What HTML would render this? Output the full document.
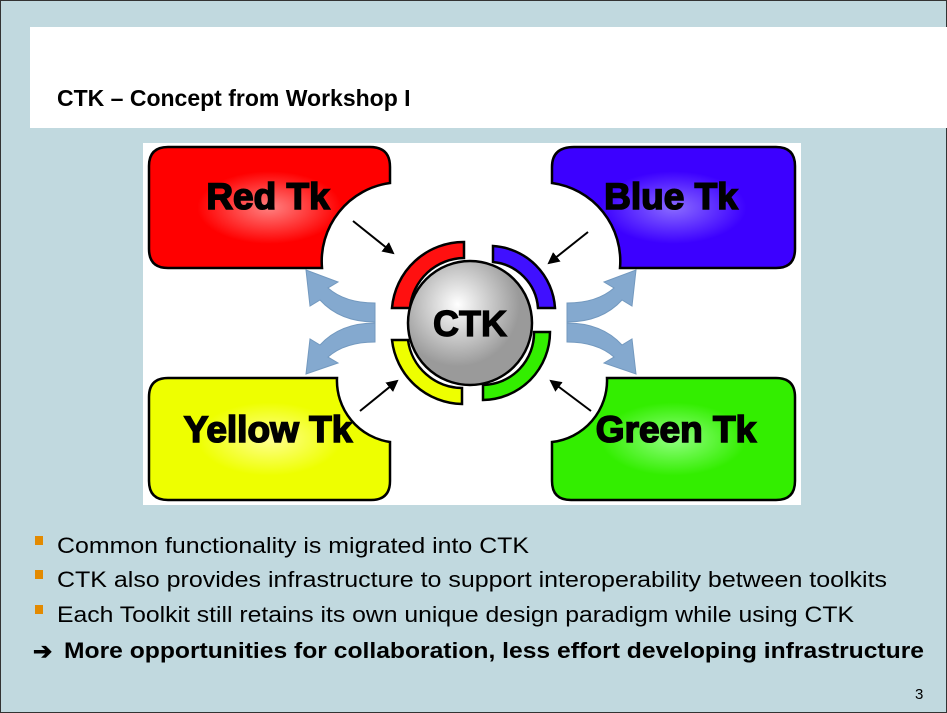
<!DOCTYPE html>
<html><head><style>html,body{margin:0;padding:0;background:#c1d9df}svg{display:block}</style></head><body>
<svg width="947" height="713" viewBox="0 0 947 713" xmlns="http://www.w3.org/2000/svg" font-family="Liberation Sans, sans-serif">
<defs>
<radialGradient id="gr"><stop offset="0" stop-color="#ff8080"/><stop offset="0.6" stop-color="#ff0000"/></radialGradient>
<radialGradient id="gb"><stop offset="0" stop-color="#8a6bff"/><stop offset="0.6" stop-color="#3c00ff"/></radialGradient>
<radialGradient id="gy"><stop offset="0" stop-color="#ffff90"/><stop offset="0.6" stop-color="#eeff00"/></radialGradient>
<radialGradient id="gg"><stop offset="0" stop-color="#90ff80"/><stop offset="0.6" stop-color="#33ee00"/></radialGradient>
<radialGradient id="gs" cx="0.4" cy="0.35"><stop offset="0" stop-color="#ffffff"/><stop offset="1" stop-color="#9a9a9a"/></radialGradient>
<marker id="ah" markerWidth="12" markerHeight="12" refX="10" refY="6" orient="auto" markerUnits="userSpaceOnUse"><path d="M0,0 L12,6 L0,12 z" fill="#000"/></marker>
</defs>
<rect width="947" height="713" fill="#c1d9df"/>
<rect x="0.5" y="0.5" width="946" height="712" fill="none" stroke="#333" stroke-width="1"/>
<rect x="30" y="27" width="917" height="101" fill="#fff"/>
<text x="57" y="106" font-size="23" font-weight="bold" fill="#000">CTK – Concept from Workshop I</text>
<rect x="143" y="143" width="658" height="362" fill="#fff"/>
<g stroke="#000" stroke-width="2.5">
<path d="M168,147 H370 Q390,147 390,167 V183 A79,79 0 0 0 322,268 H168 Q149,268 149,249 V166 Q149,147 168,147 Z" fill="url(#gr)"/>
<path d="M776,147 H574 Q552,147 552,167 V183 A79,79 0 0 1 620,268 H776 Q795,268 795,249 V166 Q795,147 776,147 Z" fill="url(#gb)"/>
<path d="M168,378 H337 A62,62 0 0 0 390,442 V481 Q390,500 371,500 H168 Q149,500 149,481 V397 Q149,378 168,378 Z" fill="url(#gy)"/>
<path d="M776,378 H607 A62,62 0 0 1 552,442 V481 Q552,500 571,500 H776 Q795,500 795,481 V397 Q795,378 776,378 Z" fill="url(#gg)"/>
</g>
<g font-weight="bold" font-size="37" text-anchor="middle" fill="#000" stroke="#000" stroke-width="1.6">
<text x="268" y="209">Red Tk</text><text x="671" y="209">Blue Tk</text>
<text x="268" y="442">Yellow Tk</text><text x="676" y="442">Green Tk</text>
</g>
<g stroke="#000" stroke-width="2.5">
<path d="M464,242 A72,72 0 0 0 392,308 H410 A55,55 0 0 1 464,258 Z" fill="#ff1010"/>
<path d="M493,246 A66,66 0 0 1 555,308 H538 A50,50 0 0 0 493,262 Z" fill="#4010ff"/>
<path d="M392,340 A72,72 0 0 0 462,404 V388 A55,55 0 0 1 408,340 Z" fill="#eeff00"/>
<path d="M550,332 A68,68 0 0 1 483,400 V385 A52,52 0 0 0 534,332 Z" fill="#33ee00"/>
</g>
<circle cx="470" cy="323" r="62" fill="url(#gs)" stroke="#000" stroke-width="2.5"/>
<text x="470" y="336" text-anchor="middle" font-size="36" font-weight="bold" stroke="#000" stroke-width="1.2">CTK</text>
<g stroke="#000" stroke-width="2" marker-end="url(#ah)">
<line x1="353" y1="221" x2="393" y2="253"/>
<line x1="588" y1="232" x2="549" y2="263"/>
<line x1="360" y1="411" x2="397" y2="381"/>
<line x1="591" y1="411" x2="551" y2="381"/>
</g>
<g fill="#84a9cf" stroke="#7399bf" stroke-width="1">
<path d="M375,322 Q340,322 320,300 L310,306 L306,270 L338,282 L328,288 Q345,303 375,303 Z"/>
<path d="M375,323 Q340,323 320,345 L310,339 L306,374 L338,363 L328,357 Q345,342 375,342 Z"/>
<path d="M567,322 Q602,322 622,300 L632,306 L636,270 L604,282 L614,288 Q597,303 567,303 Z"/>
<path d="M567,323 Q602,323 622,345 L632,339 L636,374 L604,363 L614,357 Q597,342 567,342 Z"/>
</g>
<g fill="#e38a00"><rect x="35" y="536" width="8" height="9"/><rect x="35" y="570" width="8" height="9"/><rect x="35" y="605" width="8" height="9"/></g>
<g font-size="22" fill="#000">
<text x="57" y="553" textLength="472" lengthAdjust="spacingAndGlyphs">Common functionality is migrated into CTK</text>
<text x="57" y="587" textLength="830" lengthAdjust="spacingAndGlyphs">CTK also provides infrastructure to support interoperability between toolkits</text>
<text x="57" y="622" textLength="797" lengthAdjust="spacingAndGlyphs">Each Toolkit still retains its own unique design paradigm while using CTK</text>
<text x="33" y="659" font-weight="bold" font-size="23">➔</text>
<text x="64" y="658" font-weight="bold" textLength="860" lengthAdjust="spacingAndGlyphs">More opportunities for collaboration, less effort developing infrastructure</text>
</g>
<text x="915" y="699" font-size="15">3</text>
</svg>
</body></html>
